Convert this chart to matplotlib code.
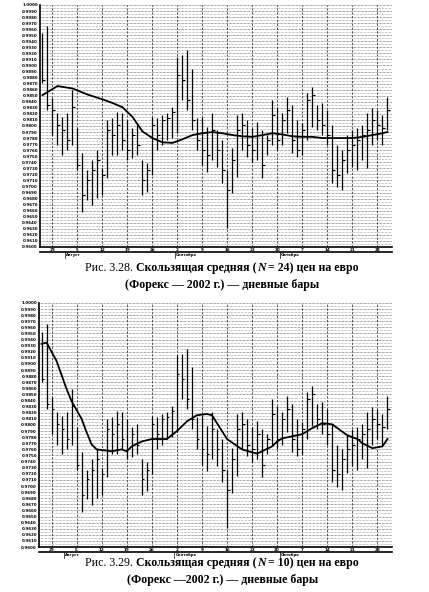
import matplotlib
matplotlib.use("Agg")
import matplotlib.pyplot as plt
from matplotlib.ticker import MultipleLocator, FixedLocator
import numpy as np

# EUR/USD daily bars, late Jul - Oct 2002
high = [0.9953, 0.9966, 0.9846, 0.9821, 0.9815, 0.9821, 0.9859, 0.9796, 0.9755, 0.9727,
        0.9744, 0.9760, 0.9730, 0.9810, 0.9813, 0.9823, 0.9821, 0.9810, 0.9796, 0.9801,
        0.9744, 0.9739, 0.9815, 0.9813, 0.9818, 0.9821, 0.9831, 0.9914, 0.9917, 0.9925,
        0.9895, 0.9813, 0.9815, 0.9798, 0.9821, 0.9793, 0.9777, 0.9727, 0.9763, 0.9818,
        0.9821, 0.9810, 0.9796, 0.9806, 0.9793, 0.9785, 0.9843, 0.9831, 0.9821, 0.9848,
        0.9834, 0.9810, 0.9805, 0.9854, 0.9864, 0.9834, 0.9838, 0.9826, 0.9801, 0.9768,
        0.9760, 0.9785, 0.9793, 0.9796, 0.9801, 0.9821, 0.9829, 0.9826, 0.9818, 0.9848]
low = [0.9871, 0.9826, 0.9785, 0.9768, 0.9752, 0.9760, 0.9768, 0.9727, 0.9658, 0.9678,
       0.9669, 0.9681, 0.9686, 0.9714, 0.9752, 0.9752, 0.9760, 0.9744, 0.9747, 0.9752,
       0.9686, 0.9691, 0.9719, 0.9760, 0.9768, 0.9777, 0.9780, 0.9788, 0.9843, 0.9826,
       0.9793, 0.9760, 0.9735, 0.9724, 0.9744, 0.9732, 0.9706, 0.9631, 0.9689, 0.9716,
       0.9760, 0.9749, 0.9740, 0.9744, 0.9714, 0.9752, 0.9768, 0.9760, 0.9768, 0.9788,
       0.9755, 0.9749, 0.9752, 0.9777, 0.9798, 0.9793, 0.9785, 0.9768, 0.9706, 0.9699,
       0.9694, 0.9722, 0.9732, 0.9727, 0.9744, 0.9730, 0.9768, 0.9777, 0.9768, 0.9793]
close = [0.9876, 0.9834, 0.9826, 0.9801, 0.9793, 0.9777, 0.9831, 0.9735, 0.9686, 0.9711,
         0.9727, 0.9744, 0.9719, 0.9793, 0.9785, 0.9801, 0.9777, 0.9760, 0.9785, 0.9768,
         0.9711, 0.9727, 0.9801, 0.9785, 0.9810, 0.9813, 0.9823, 0.9884, 0.9876, 0.9843,
         0.9810, 0.9777, 0.9760, 0.9752, 0.9793, 0.9760, 0.9727, 0.9694, 0.9744, 0.9793,
         0.9801, 0.9768, 0.9760, 0.9785, 0.9735, 0.9777, 0.9818, 0.9777, 0.9810, 0.9826,
         0.9777, 0.9760, 0.9793, 0.9843, 0.9851, 0.9810, 0.9801, 0.9785, 0.9727, 0.9719,
         0.9744, 0.9760, 0.9768, 0.9777, 0.9785, 0.9793, 0.9810, 0.9801, 0.9796, 0.9826]

# moving averages, read at a few bars
ma24_idx = [0, 3, 6, 9, 12, 14, 16, 18, 20, 22, 24, 26, 28, 30, 32, 34, 36, 38, 40, 42,
            44, 46, 48, 50, 52, 54, 56, 58, 60, 62, 64, 66, 68, 69]
ma24 = [0.9851, 0.9866, 0.9862, 0.9852, 0.9844, 0.9838, 0.9831, 0.9815, 0.9791, 0.9780,
        0.9773, 0.9772, 0.9778, 0.9785, 0.9788, 0.9790, 0.9788, 0.9785, 0.9783, 0.9782,
        0.9785, 0.9788, 0.9786, 0.9783, 0.9782, 0.9782, 0.9780, 0.9780, 0.9780, 0.9780,
        0.9782, 0.9785, 0.9788, 0.9790]
ma10_idx = [0, 1, 3, 5, 6, 8, 9, 10, 11, 14, 16, 17, 18, 20, 22, 25, 27, 29, 31, 33,
            34, 36, 37, 40, 43, 46, 47, 48, 52, 54, 56, 58, 59, 61, 63, 64, 66, 68, 69]
ma10 = [0.9933, 0.9935, 0.9905, 0.9859, 0.9839, 0.9810, 0.9788, 0.9768, 0.9760, 0.9757,
        0.9760, 0.9757, 0.9765, 0.9773, 0.9777, 0.9777, 0.9790, 0.9806, 0.9816, 0.9818,
        0.9816, 0.9790, 0.9777, 0.9760, 0.9753, 0.9765, 0.9773, 0.9778, 0.9785, 0.9795,
        0.9803, 0.9801, 0.9795, 0.9783, 0.9777, 0.9770, 0.9762, 0.9765, 0.9777]

week_pos = [2, 7, 12, 17, 22, 27, 32, 37, 42, 47, 52, 57, 62, 67]
week_labels = ["29", "5", "12", "19", "26", "2", "9", "16", "23", "30", "7", "14", "21", "28"]
month_names = ["Август", "Сентябрь", "Октябрь"]
month_pos = [5, 27, 48]

SERIF = "Liberation Serif"


def price_panel(ax, ma_idx, ma):
    x = np.arange(len(high))
    ax.vlines(x, low, high, color="k", lw=0.9)
    ax.hlines(close, x, x + 0.5, color="k", lw=0.8)
    ax.plot(ma_idx, ma, color="k", lw=1.3)

    ax.set_xlim(-0.5, 69.9)
    ax.set_ylim(0.9600, 1.0000)

    ax.yaxis.set_major_locator(MultipleLocator(0.001))
    ax.yaxis.set_minor_locator(MultipleLocator(0.0005))
    ax.yaxis.set_major_formatter(matplotlib.ticker.FormatStrFormatter("%.4f"))
    ax.tick_params(axis="y", which="both", length=0, labelsize=2.9, pad=1.5)
    for t in ax.get_yticklabels():
        t.set_fontweight("bold")
    ax.grid(True, axis="y", which="major", color="0.15", ls=(0, (1, 1.2)), lw=0.45)
    ax.grid(True, axis="y", which="minor", color="0.35", ls=(0, (1, 1.5)), lw=0.4)

    ax.xaxis.set_major_locator(FixedLocator(week_pos))
    ax.set_xticklabels(week_labels, fontsize=3, fontweight="bold")
    ax.tick_params(axis="x", length=0, pad=0.6)
    ax.grid(True, axis="x", which="major", color="0.15", ls=(0, (3, 2)), lw=0.55)

    for side in ["top", "right"]:
        ax.spines[side].set_visible(False)
    ax.spines["left"].set_linewidth(1.2)
    ax.spines["bottom"].set_linewidth(1.2)

    # strip under the dates
    ax.plot([0, 1], [-0.022, -0.022], transform=ax.transAxes, color="k",
            lw=1.2, clip_on=False)
    trans = matplotlib.transforms.blended_transform_factory(ax.transData, ax.transAxes)
    for name, p in zip(month_names, month_pos):
        ax.plot([p - 0.5, p - 0.5], [-0.022, -0.045], transform=trans, color="k",
                lw=0.5, clip_on=False)
        ax.text(p - 0.3, -0.034, name, transform=trans, fontsize=2.8,
                fontweight="bold", ha="left", va="center")


def caption(fig, y, parts, size=8.6, cx=0.518):
    r = fig.canvas.get_renderer()
    texts = []
    for s, w, st in parts:
        t = fig.text(0, y, s, fontsize=size, fontweight=w, fontstyle=st,
                     family=SERIF, va="center", ha="left")
        texts.append(t)
    widths = [t.get_window_extent(r).width / fig.bbox.width for t in texts]
    x = cx - sum(widths) / 2
    for t, w in zip(texts, widths):
        t.set_x(x)
        x += w


fig = plt.figure(figsize=(4.29, 5.92), dpi=100)

ax1 = fig.add_axes([0.0932, 0.5828, 0.8205, 0.4088])
price_panel(ax1, ma24_idx, ma24)

ax2 = fig.add_axes([0.0909, 0.0760, 0.8228, 0.4122])
price_panel(ax2, ma10_idx, ma10)

caption(fig, 0.547, [("Рис. 3.28. ", "normal", "normal"),
                     ("Скользящая средняя (", "bold", "normal"),
                     ("N", "bold", "italic"),
                     (" = 24) цен на евро", "bold", "normal")])
caption(fig, 0.519, [("(Форекс — 2002 г.) — дневные бары", "bold", "normal")])

caption(fig, 0.049, [("Рис. 3.29. ", "normal", "normal"),
                     ("Скользящая средняя (", "bold", "normal"),
                     ("N", "bold", "italic"),
                     (" = 10) цен на евро", "bold", "normal")])
caption(fig, 0.020, [("(Форекс —2002 г.) — дневные бары", "bold", "normal")])

fig.savefig("out.png", dpi=100)
